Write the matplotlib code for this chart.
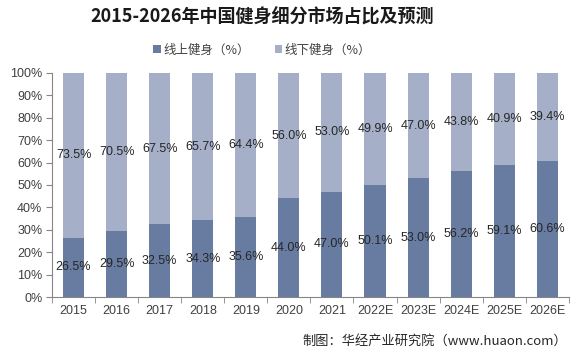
import matplotlib
matplotlib.use("Agg")
import matplotlib.pyplot as plt
import numpy as np
from matplotlib.ticker import FixedLocator

plt.rcParams['font.family'] = ['Liberation Sans', 'Noto Sans CJK SC', 'DejaVu Sans']

years = ['2015', '2016', '2017', '2018', '2019', '2020', '2021', '2022E', '2023E', '2024E', '2025E', '2026E']
online = [26.5, 29.5, 32.5, 34.3, 35.6, 44.0, 47.0, 50.1, 53.0, 56.2, 59.1, 60.6]
offline = [73.5, 70.5, 67.5, 65.7, 64.4, 56.0, 53.0, 49.9, 47.0, 43.8, 40.9, 39.4]
series_names = ['线上健身（%）', '线下健身（%）']
title = '2015-2026年中国健身细分市场占比及预测'
source = '制图：华经产业研究院（www.huaon.com）'

c_on = '#687ba0'
c_off = '#a5b0c8'

fig = plt.figure(figsize=(5.8, 3.52), dpi=100)
ax = fig.add_axes([0.0897, 0.156, 0.891, 0.637])

x = np.arange(len(years))
w = 0.49
b1 = ax.bar(x, online, w, color=c_on, label=series_names[0])
b2 = ax.bar(x, offline, w, bottom=online, color=c_off, label=series_names[1])

for xi, on, off in zip(x, online, offline):
    ax.text(xi, on / 2, f'{on:.1f}%', ha='center', va='center', fontsize=9, color='#262626')
    ax.text(xi, on + off / 2, f'{off:.1f}%', ha='center', va='center', fontsize=9, color='#262626')

ax.set_xlim(-0.5, len(years) - 0.5)
ax.set_ylim(0, 100)
ax.set_yticks(np.arange(0, 101, 10))
ax.set_yticklabels([f'{v}%' for v in range(0, 101, 10)], fontsize=9, color='#404040')
ax.set_xticks(x)
ax.set_xticklabels(years, fontsize=9, color='#404040')
ax.tick_params(axis='x', length=0, pad=6)
ax.xaxis.set_minor_locator(FixedLocator(np.arange(-0.5, len(years), 1)))
ax.tick_params(axis='x', which='minor', length=4, color='#868686', direction='out')
ax.tick_params(axis='y', length=4, color='#868686', direction='out', pad=3)
for s in ['top', 'right']:
    ax.spines[s].set_visible(False)
for s in ['left', 'bottom']:
    ax.spines[s].set_color('#868686')
    ax.spines[s].set_linewidth(0.8)

fig.text(0.452, 0.952, title, ha='center', va='center', fontsize=13, fontweight='bold',
         family=['Noto Sans CJK SC', 'DejaVu Sans'], color='#1a1a1a')

leg = fig.legend(handles=[b1, b2], labels=series_names, loc='center', bbox_to_anchor=(0.452, 0.858),
                 ncol=2, frameon=False, handlelength=0.6, handleheight=0.6,
                 handletextpad=0.2, columnspacing=2.0, prop={'family': ['Noto Sans CJK SC'], 'size': 9})
for t in leg.get_texts():
    t.set_color('#404040')

fig.text(0.978, 0.03, source, ha='right', va='center', fontsize=9.5,
         family=['Noto Sans CJK SC', 'DejaVu Sans'], color='#262626')

fig.savefig('out.png', dpi=100)
